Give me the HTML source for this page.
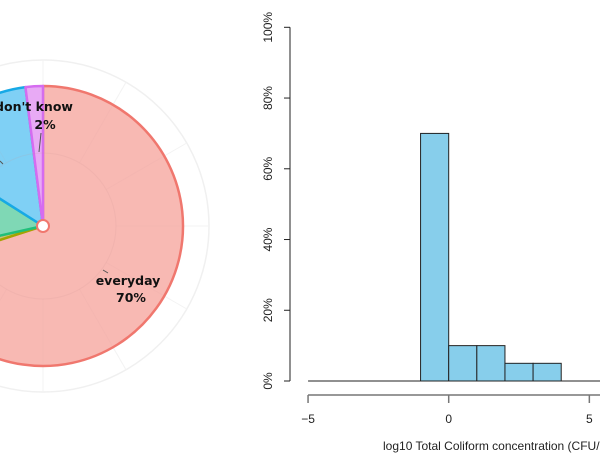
<!DOCTYPE html>
<html><head><meta charset="utf-8"><style>
body{margin:0;background:#fff;width:600px;height:463px;overflow:hidden}
svg{display:block}
</style></head><body>
<svg id="c" width="600" height="463" xmlns="http://www.w3.org/2000/svg"></svg>
<script>
// Pie data (percent)
const pieCategories = ["everyday","other-olive","other-green","other-blue","don't know"];
const pieValues = [70, 1.5, 12.5, 14, 2];
const pieFills = ["#f8b9b3","#c9c27a","#7fd8b5","#7fd0f5","#e8aaf5"];
const pieStrokes = ["#f0776e","#a3a500","#1fbf7a","#17a9e6","#d56cf0"];
// Histogram data
const binEdges = [-5,-4,-3,-2,-1,0,1,2,3,4,5];
const binPercents = [0,0,0,0,70,10,10,5,5,0];
const yTicks = [0,20,40,60,80,100];
const yTickLabels = ["0%","20%","40%","60%","80%","100%"];
const xTicks = [-5,0,5];
const xTickLabels = ["\u22125","0","5"];

const svg = document.getElementById('c');
const NS = "http://www.w3.org/2000/svg";
function mk(tag, attrs, parent){const e=document.createElementNS(NS,tag);for(const k in attrs)e.setAttribute(k,attrs[k]);(parent||svg).appendChild(e);return e;}

// ---- Pie ----
const cx=43, cy=226, R=140;
const g=mk('g',{});


mk('circle',{cx,cy,r:166,fill:'none',stroke:'#f0f0f0','stroke-width':1.5},g);
for(let a=0;a<360;a+=30){const [x,y]=[cx+166*Math.sin(a*Math.PI/180),cy-166*Math.cos(a*Math.PI/180)];mk('line',{x1:cx,y1:cy,x2:x,y2:y,stroke:'#f3f3f3','stroke-width':1},g);}
let start=0;
const total=pieValues.reduce((a,b)=>a+b,0);
function pt(a,r){const t=a*Math.PI/180;return [cx+r*Math.sin(t),cy-r*Math.cos(t)];}
pieValues.forEach((v,i)=>{
  const sweep=v/total*360, end=start+sweep;
  const [x1,y1]=pt(start,R),[x2,y2]=pt(end,R);
  const p=mk('path',{d:`M${cx},${cy}L${x1},${y1}A${R},${R} 0 ${sweep>180?1:0} 1 ${x2},${y2}Z`,fill:pieFills[i],stroke:pieStrokes[i],'stroke-width':2.5,'stroke-linejoin':'round'},g);
  
  
  start=end;
});
// faint grid overlay
mk('circle',{cx,cy,r:73,fill:'none',stroke:'rgba(200,150,150,0.15)','stroke-width':1},g);
for(let a=0;a<360;a+=30){const [x,y]=pt(a,R-2);const [x0,y0]=pt(a,73);mk('line',{x1:x0,y1:y0,x2:x,y2:y,stroke:'rgba(200,150,150,0.08)','stroke-width':1},g);}
mk('circle',{cx,cy,r:6,fill:'#fff',stroke:'#f0776e','stroke-width':2},g);
// labels
const lf='font-family:"DejaVu Sans","Liberation Sans",sans-serif;font-weight:bold;font-size:12.5px;fill:#111';
function lbl(x,y,t,name){const e=mk('text',{x,y,'text-anchor':'middle',style:lf},g);e.textContent=t;}
mk('line',{x1:41,y1:133,x2:39,y2:152,stroke:'#555','stroke-width':1},g);
lbl(34,111,"don't know",'label-dont-know');lbl(45,129,"2%",'label-dont-know-pct');
mk('line',{x1:103,y1:270,x2:108,y2:273,stroke:'#555','stroke-width':1},g);
lbl(128,285,"everyday",'label-everyday');lbl(131,302,"70%",'label-everyday-pct');
mk('line',{x1:0,y1:161,x2:3,y2:164,stroke:'#555','stroke-width':1},g);

// ---- Histogram ----
const xs=v=>448.7+v*28.13;
const ys=v=>381-v*3.537;
const h=mk('g',{});


const tf='font-family:"Liberation Sans",Arial,sans-serif;font-size:12px;fill:#222';
// y axis
mk('line',{x1:290,y1:ys(0),x2:290,y2:ys(100),stroke:'#222','stroke-width':1},h);
yTicks.forEach((t,i)=>{
  mk('line',{x1:284,y1:ys(t),x2:290,y2:ys(t),stroke:'#222','stroke-width':1},h);
  const e=mk('text',{x:0,y:0,transform:`translate(272,${ys(t)}) rotate(-90)`,'text-anchor':'middle',style:tf},h);
  e.textContent=yTickLabels[i];
  
  
});
// bars
for(let i=0;i<binPercents.length;i++){
  const x0=xs(binEdges[i]),x1=xs(binEdges[i+1]),v=binPercents[i];
  const r=mk('rect',{x:x0,y:ys(v),width:x1-x0,height:ys(0)-ys(v),fill:'#87ceeb',stroke:'#222','stroke-width':1},h);
  
  
}
mk('line',{x1:xs(-5),y1:ys(0),x2:600,y2:ys(0),stroke:'#222','stroke-width':1},h);
// x axis
mk('line',{x1:xs(-5),y1:395,x2:600,y2:395,stroke:'#777','stroke-width':1.5},h);
xTicks.forEach((t,i)=>{
  mk('line',{x1:xs(t),y1:395,x2:xs(t),y2:403,stroke:'#777','stroke-width':1.5},h);
  const e=mk('text',{x:xs(t),y:423,'text-anchor':'middle',style:tf},h);
  e.textContent=xTickLabels[i];
  
  
});
const xt=mk('text',{x:383,y:450,style:tf},h);
xt.textContent="log10 Total Coliform concentration (CFU/100mL)";


</script>
</body></html>
